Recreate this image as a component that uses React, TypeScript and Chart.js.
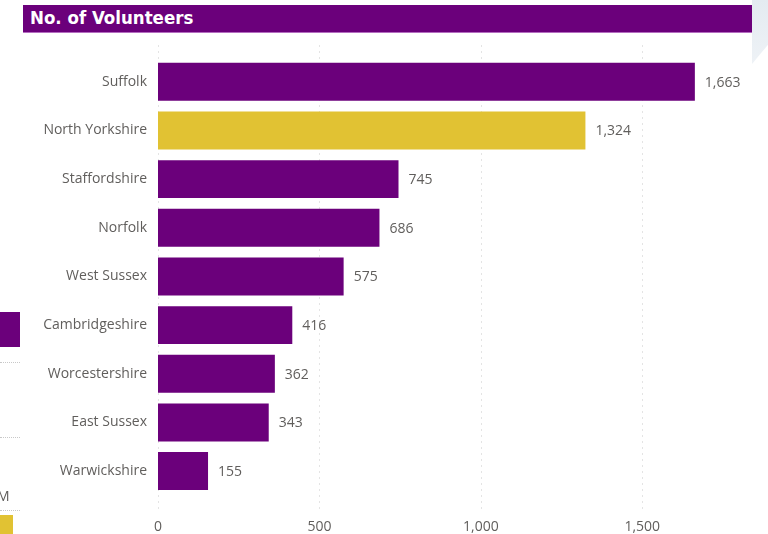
import React, { useEffect, useRef } from "react";
import { Chart, registerables } from "chart.js";

Chart.register(...registerables);

const categories = [
  "Suffolk",
  "North Yorkshire",
  "Staffordshire",
  "Norfolk",
  "West Sussex",
  "Cambridgeshire",
  "Worcestershire",
  "East Sussex",
  "Warwickshire",
];
const volunteers = [1663, 1324, 745, 686, 575, 416, 362, 343, 155];
const highlighted = ["North Yorkshire"];
const xTicks = [0, 500, 1000, 1500];

const PURPLE = "#6b007b";
const YELLOW = "#e1c233";
const FONT = "'Segoe UI', 'Open Sans', sans-serif";

export default function App() {
  const ref = useRef<HTMLCanvasElement | null>(null);

  useEffect(() => {
    document.body.style.margin = "0";
    const canvas = ref.current;
    if (!canvas) return;

    const gridPlugin = {
      id: "dottedGrid",
      beforeDatasetsDraw(chart: any) {
        const x = chart.scales.x;
        const ctx = chart.ctx;
        ctx.save();
        ctx.strokeStyle = "#c8c8c8";
        ctx.lineWidth = 1;
        ctx.setLineDash([1, 5]);
        xTicks.forEach((v) => {
          const px = Math.round(x.getPixelForValue(v)) + 0.5;
          ctx.beginPath();
          ctx.moveTo(px, chart.chartArea.top - 12);
          ctx.lineTo(px, chart.chartArea.bottom + 15);
          ctx.stroke();
        });
        ctx.restore();
      },
    };

    const labelPlugin = {
      id: "valueLabels",
      afterDatasetsDraw(chart: any) {
        const ctx = chart.ctx;
        const meta = chart.getDatasetMeta(0);
        ctx.save();
        ctx.fillStyle = "#605e5c";
        ctx.font = `14px ${FONT}`;
        ctx.textAlign = "left";
        ctx.textBaseline = "middle";
        meta.data.forEach((bar: any, i: number) => {
          ctx.fillText(volunteers[i].toLocaleString("en-US"), bar.x + 10, bar.y + 1);
        });
        ctx.restore();
      },
    };

    const chart = new Chart(canvas, {
      type: "bar",
      data: {
        labels: categories,
        datasets: [
          {
            data: volunteers,
            backgroundColor: categories.map((c) => (highlighted.includes(c) ? YELLOW : PURPLE)),
            barPercentage: 0.78,
            categoryPercentage: 1,
            borderWidth: 0,
          },
        ],
      },
      options: {
        indexAxis: "y",
        animation: false,
        responsive: false,
        maintainAspectRatio: false,
        layout: { padding: { top: 57.5, right: 16, left: 0, bottom: 0 } },
        plugins: { legend: { display: false }, tooltip: { enabled: false } },
        scales: {
          x: {
            min: 0,
            max: 1840,
            afterBuildTicks: (scale: any) => {
              scale.ticks = xTicks.map((v) => ({ value: v }));
            },
            afterFit: (scale: any) => {
              scale.height = 38.6;
            },
            grid: { display: false, drawTicks: false },
            border: { display: false },
            ticks: {
              color: "#605e5c",
              font: { size: 14, family: FONT },
              padding: 23,
              callback: (v: any) => Number(v).toLocaleString("en-US"),
            },
          },
          y: {
            afterFit: (scale: any) => {
              scale.width = 158;
            },
            grid: { display: false, drawTicks: false },
            border: { display: false },
            ticks: {
              color: "#605e5c",
              font: { size: 14, family: FONT },
              padding: 11,
            },
          },
        },
      },
      plugins: [gridPlugin, labelPlugin],
    });
    return () => chart.destroy();
  }, []);

  return (
    <div
      style={{
        position: "fixed",
        left: 0,
        top: 0,
        width: 768,
        height: 534,
        background: "#ffffff",
        overflow: "hidden",
      }}
    >
      <div
        style={{
          position: "absolute",
          left: 752,
          top: 0,
          width: 16,
          height: 64,
          background: "linear-gradient(180deg, #e4ebf1 0%, #eef2f6 100%)",
          clipPath: "polygon(0 0, 100% 0, 100% 70%, 0 100%)",
        }}
      />
      <canvas ref={ref} width={768} height={534} style={{ position: "absolute", left: 0, top: 0 }} />
      <div
        style={{
          position: "absolute",
          left: 23,
          top: 5,
          width: 729,
          height: 28,
          background: PURPLE,
          borderBottom: "1px solid #b46cc0",
          boxSizing: "border-box",
          color: "#ffffff",
          fontFamily: "'DejaVu Sans Condensed', 'DejaVu Sans', sans-serif",
          fontWeight: "bold",
          fontSize: 18.5,
          lineHeight: "25px",
          paddingLeft: 7,
        }}
      >
        No. of Volunteers
      </div>
      <div style={{ position: "absolute", left: 0, top: 312, width: 20, height: 35, background: PURPLE }} />
      {[362, 437, 510].map((y) => (
        <div
          key={y}
          style={{ position: "absolute", left: 0, top: y, width: 20, height: 0, borderTop: "1px dotted #c8c8c8" }}
        />
      ))}
      <div
        style={{
          position: "absolute",
          left: -3,
          top: 487,
          fontFamily: FONT,
          fontSize: 14,
          color: "#605e5c",
          lineHeight: "18px",
        }}
      >
        M
      </div>
      <div style={{ position: "absolute", left: 0, top: 515, width: 13, height: 19, background: YELLOW }} />
    </div>
  );
}
